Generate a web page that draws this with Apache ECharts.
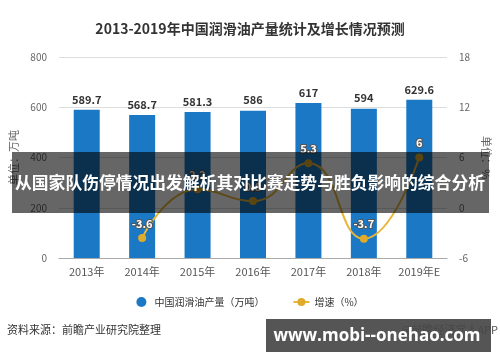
<!DOCTYPE html>
<html><head><meta charset="utf-8">
<script src="https://cdn.jsdelivr.net/npm/echarts@6/dist/echarts.min.js"></script>
<style>html,body{margin:0;padding:0;background:#fff}#c{width:500px;height:362px}</style>
</head><body><div id="c"></div>
<script>
var categories = ['2013年','2014年','2015年','2016年','2017年','2018年','2019年E'];
var production = [589.7, 568.7, 581.3, 586, 617, 594, 629.6];
var growth = [null, -3.6, 2.2, 0.8, 5.3, -3.7, 6];
var leftTicks = {min: 0, max: 800, interval: 200};
var rightTicks = {min: -6, max: 18, interval: 6};
var titleText = '2013-2019年中国润滑油产量统计及增长情况预测';
var seriesNames = ['中国润滑油产量（万吨）', '增速（%）'];
var bannerText = '从国家队伤停情况出发解析其对比赛走势与胜负影响的综合分析';
var watermarkText = 'www.mobi--onehao.com';
var sourceText = '资料来源：前瞻产业研究院整理';
var appText = '@前瞻经济学人APP';

var font = '"Noto Sans CJK SC", "Noto Sans", sans-serif';
var chart = echarts.init(document.getElementById('c'), null, {renderer: 'canvas'});
chart.setOption({
  animation: false,
  textStyle: {fontFamily: font},
  title: {text: titleText, left: 'center', top: 17,
    textStyle: {fontSize: 14, fontWeight: 'bold', color: '#333', fontFamily: font}},
  grid: {left: 58, right: 53, top: 57, bottom: 104, containLabel: false},
  legend: {bottom: 50, left: 'center', itemGap: 28, itemWidth: 16, itemHeight: 10,
    textStyle: {fontSize: 10, color: '#333'},
    data: [{name: seriesNames[0], icon: 'circle'}, {name: seriesNames[1]}]},
  xAxis: {type: 'category', data: categories,
    axisLine: {lineStyle: {color: '#aaa'}}, axisTick: {show: false},
    axisLabel: {color: '#555', fontSize: 11, margin: 8}},
  yAxis: [
    {type: 'value', min: leftTicks.min, max: leftTicks.max, interval: leftTicks.interval,
     name: '单位：万吨', nameLocation: 'middle', nameGap: 40, nameRotate: 90,
     nameTextStyle: {color: '#666', fontSize: 11},
     axisLine: {show: false}, axisTick: {show: false},
     axisLabel: {color: '#666', fontSize: 10, margin: 12},
     splitLine: {lineStyle: {color: '#ddd'}}},
    {type: 'value', min: rightTicks.min, max: rightTicks.max, interval: rightTicks.interval,
     name: '单位：%', nameLocation: 'middle', nameGap: 28, nameRotate: -90,
     nameTextStyle: {color: '#666', fontSize: 11},
     axisLine: {show: false}, axisTick: {show: false},
     axisLabel: {color: '#666', fontSize: 10, margin: 12},
     splitLine: {show: false}}
  ],
  series: [
    {name: seriesNames[0], type: 'bar', data: production, barWidth: 26,
     itemStyle: {color: '#1a78c4'},
     label: {show: true, position: 'top', distance: 5, color: '#333', fontSize: 11, fontWeight: 'bold'}},
    {name: seriesNames[1], type: 'line', yAxisIndex: 1, data: growth, smooth: true,
     symbol: 'circle', symbolSize: 8, connectNulls: false,
     lineStyle: {color: '#e7b63a', width: 2}, itemStyle: {color: '#e0aa2a'},
     label: {show: true, position: 'top', distance: 5, color: '#fff', fontSize: 11, fontWeight: 'bold',
       textBorderColor: '#555', textBorderWidth: 2}}
  ],
  graphic: [
    {type: 'text', left: 7, top: 324, style: {text: sourceText, fill: '#333', font: '11px ' + font}},
    {type: 'text', right: 2, top: 324, style: {text: appText, fill: '#555', font: '11px ' + font}},
    {type: 'rect', shape: {x: 12, y: 152, width: 477, height: 61}, style: {fill: 'rgba(0,0,0,0.6)'}, z: 100},
    {type: 'text', x: 250, y: 183, z: 101, style: {text: bannerText, fill: '#fff', align: 'center', verticalAlign: 'middle',
      font: 'bold 16.8px ' + font}},
    {type: 'rect', shape: {x: 266, y: 319, width: 225, height: 33}, style: {fill: 'rgba(70,70,70,0.92)'}, z: 100},
    {type: 'text', x: 377, y: 336, z: 101, style: {text: watermarkText, fill: '#fff', align: 'center', verticalAlign: 'middle',
      font: 'bold 17px "Open Sans", "Noto Sans", sans-serif'}}
  ]
});
</script></body></html>
